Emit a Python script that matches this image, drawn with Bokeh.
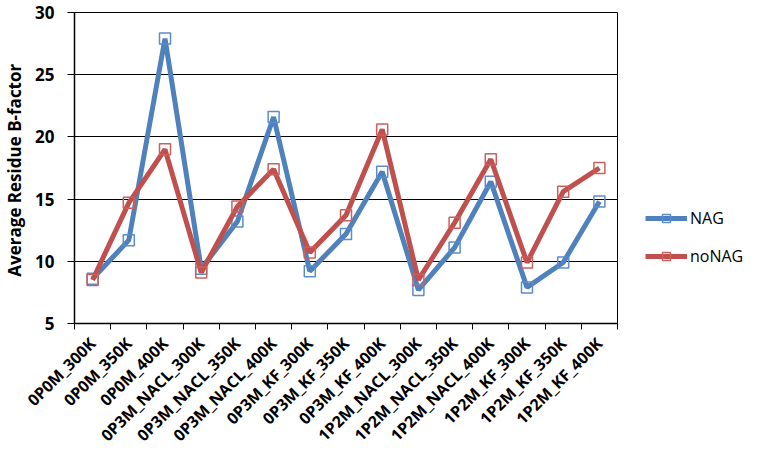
from bokeh.plotting import figure
from bokeh.models import Range1d, FixedTicker, Legend, LegendItem
from bokeh.layouts import row
from bokeh.embed import file_html
from bokeh.resources import INLINE
import math

categories = ["0P0M_300K", "0P0M_350K", "0P0M_400K",
              "0P3M_NACL_300K", "0P3M_NACL_350K", "0P3M_NACL_400K",
              "0P3M_KF_300K", "0P3M_KF_350K", "0P3M_KF_400K",
              "1P2M_NACL_300K", "1P2M_NACL_350K", "1P2M_NACL_400K",
              "1P2M_KF_300K", "1P2M_KF_350K", "1P2M_KF_400K"]
nag = [8.6, 11.7, 27.9, 9.4, 13.2, 21.6, 9.2, 12.2, 17.2, 7.7, 11.1, 16.4, 7.9, 9.9, 14.8]
nonag = [8.5, 14.7, 19.0, 9.1, 14.4, 17.4, 10.7, 13.7, 20.6, 8.5, 13.1, 18.2, 9.9, 15.6, 17.5]
series_names = ["NAG", "noNAG"]
y_ticks = [5, 10, 15, 20, 25, 30]

BLUE = "#4F81BD"
RED = "#C0504D"
BLUE_M = "#5B8CCB"
RED_M = "#CC5F5C"
FONT = "Open Sans"

n = len(categories)
xs = [i + 0.5 for i in range(n)]

p = figure(width=619, height=456, output_backend="svg", toolbar_location=None,
           x_range=Range1d(0, n), y_range=Range1d(5, 30),
           min_border_left=71, min_border_right=2, min_border_top=12,
           min_border_bottom=131)

p.outline_line_color = "black"
p.outline_line_width = 1
p.xgrid.grid_line_color = None
p.ygrid.grid_line_color = "black"
p.ygrid.grid_line_width = 1

# x axis: labels at centres, ticks at category boundaries
p.xaxis.ticker = FixedTicker(ticks=xs, minor_ticks=list(range(n + 1)))
p.xaxis.major_label_overrides = {x: c for x, c in zip(xs, categories)}
p.xaxis.major_label_orientation = math.pi / 4
p.xaxis.major_tick_out = 0
p.xaxis.major_tick_in = 0
p.xaxis.minor_tick_out = 6
p.xaxis.minor_tick_in = 0
p.xaxis.minor_tick_line_color = "black"
p.xaxis.major_label_text_font = FONT
p.xaxis.major_label_text_font_style = "bold"
p.xaxis.major_label_text_font_size = "16px"
p.xaxis.major_label_text_color = "black"
p.xaxis.major_label_standoff = 11
p.xaxis.axis_line_color = "black"
p.xaxis.axis_line_width = 1.5

p.yaxis.ticker = FixedTicker(ticks=y_ticks)
p.yaxis.major_tick_out = 7
p.yaxis.major_tick_in = 0
p.yaxis.minor_tick_line_color = None
p.yaxis.major_label_text_font = FONT
p.yaxis.major_label_text_font_style = "bold"
p.yaxis.major_label_text_font_size = "17px"
p.yaxis.major_label_text_color = "black"
p.yaxis.major_label_standoff = 13
p.yaxis.axis_line_color = "black"
p.yaxis.axis_line_width = 1.5
p.yaxis.major_tick_line_color = "black"
p.yaxis.axis_label = "Average Residue  B-factor"
p.yaxis.axis_label_text_font = FONT
p.yaxis.axis_label_text_font_style = "bold"
p.yaxis.axis_label_text_font_size = "17px"
p.yaxis.axis_label_text_color = "black"
p.yaxis.axis_label_standoff = 6

p.line(xs, nag, line_color=BLUE, line_width=5)
p.scatter(xs, nag, marker="square", size=11, fill_color=None,
          line_color=BLUE_M, line_width=1.5)
p.line(xs, nonag, line_color=RED, line_width=5)
p.scatter(xs, nonag, marker="square", size=11, fill_color=None,
          line_color=RED_M, line_width=1.5)

# legend panel (its renderers use the series data but lie outside its view)
q = figure(width=125, height=456, output_backend="svg", toolbar_location=None,
           x_range=Range1d(100, 101), y_range=Range1d(100, 101),
           min_border=0, x_axis_location=None, y_axis_location=None)
q.outline_line_color = None
q.grid.grid_line_color = None
items = []
for name, ys, lc, mc in zip(series_names, [nag, nonag], [BLUE, RED], [BLUE_M, RED_M]):
    lr = q.line(xs, ys, line_color=lc, line_width=5)
    sr = q.scatter(xs, ys, marker="square", size=11, fill_color=None,
                   line_color=mc, line_width=1.5)
    items.append(LegendItem(label=name, renderers=[lr, sr]))

legend = Legend(items=items, location=(26, 56))
legend.border_line_color = None
legend.background_fill_alpha = 0
legend.glyph_width = 42
legend.glyph_height = 20
legend.label_text_font = FONT
legend.label_text_font_size = "16px"
legend.label_text_color = "black"
legend.label_standoff = 3
legend.spacing = 16
legend.padding = 5
legend.margin = 0
q.add_layout(legend)

layout = row(p, q)
open("out.html", "w").write(file_html(layout, INLINE))
